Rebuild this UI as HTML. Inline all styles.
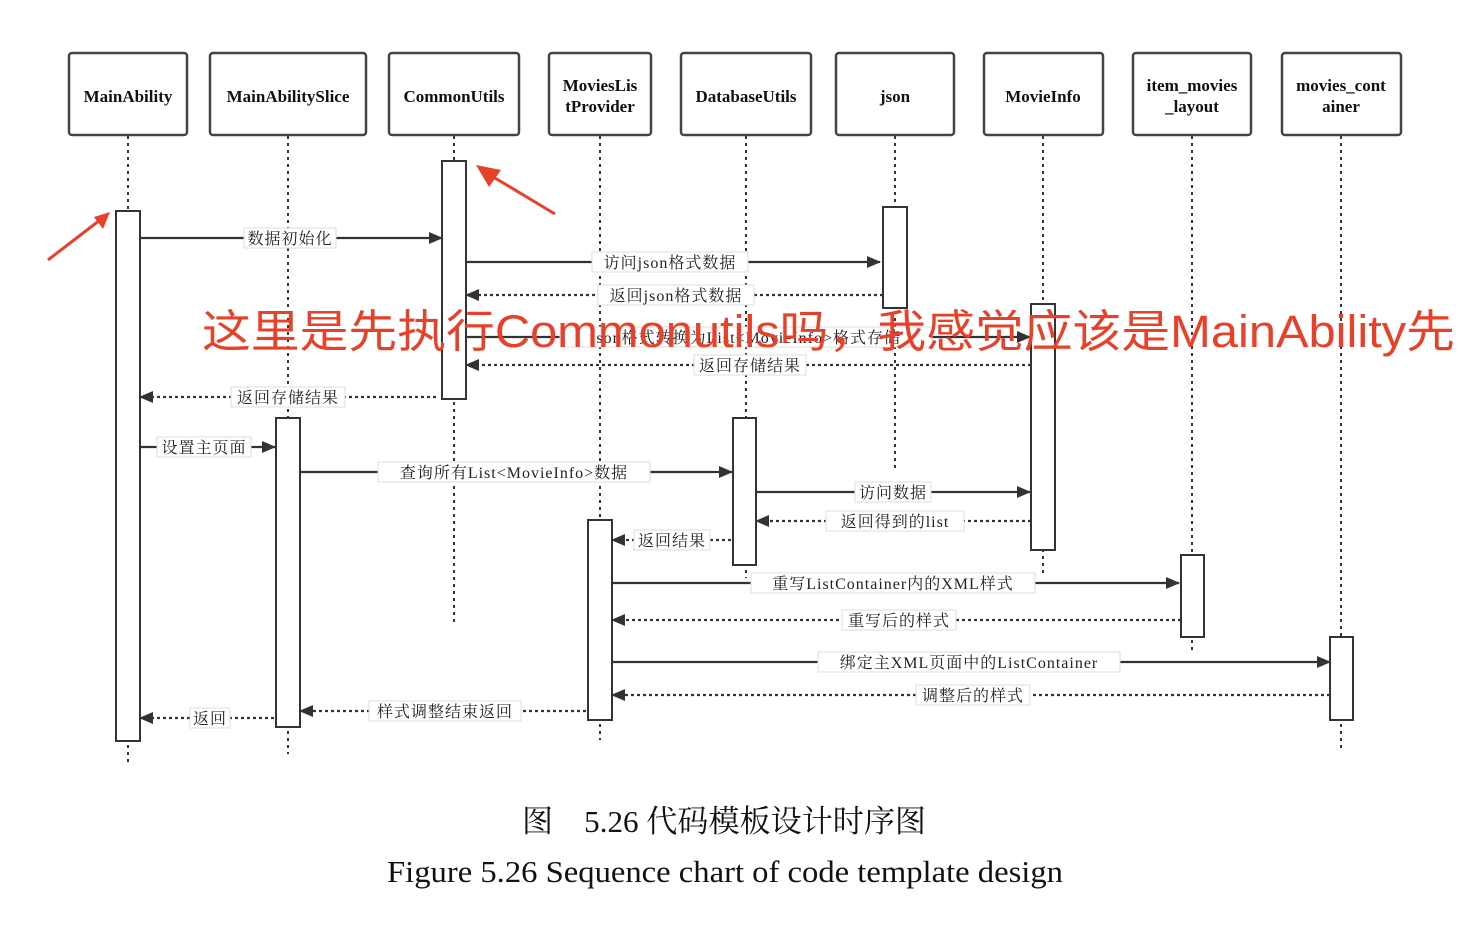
<!DOCTYPE html>
<html><head><meta charset="utf-8"><style>
html,body{margin:0;padding:0;background:#fff;width:1476px;height:934px;overflow:hidden}
svg{display:block}
.hd{font-family:"Liberation Serif",serif;font-weight:bold;font-size:17px;fill:#111}
.lb{font-family:"Liberation Serif","Noto Serif CJK SC",serif;font-size:16px;fill:#222;letter-spacing:1px}
.cap{font-family:"Liberation Serif","Noto Serif CJK SC",serif;font-size:31px;fill:#111}
.red{font-family:"Liberation Sans","Noto Sans CJK SC",sans-serif;font-size:45px;fill:#e8412a}
</style></head><body>
<svg width="1476" height="934" viewBox="0 0 1476 934" xmlns="http://www.w3.org/2000/svg">
<defs>
<marker id="a" markerWidth="14" markerHeight="12" refX="13" refY="6" orient="auto" markerUnits="userSpaceOnUse"><path d="M0,0 L14,6 L0,12 z" fill="#333"/></marker>
</defs>
<g stroke="#333" stroke-width="2" stroke-dasharray="3,4" fill="none">
<line x1="128" y1="136" x2="128" y2="762"/>
<line x1="288" y1="136" x2="288" y2="754"/>
<line x1="454" y1="136" x2="454" y2="622"/>
<line x1="600" y1="136" x2="600" y2="740"/>
<line x1="746" y1="136" x2="746" y2="578"/>
<line x1="895" y1="136" x2="895" y2="470"/>
<line x1="1043" y1="136" x2="1043" y2="575"/>
<line x1="1192" y1="136" x2="1192" y2="652"/>
<line x1="1341" y1="136" x2="1341" y2="748"/>
</g>
<g fill="#fff" stroke="#444" stroke-width="2.5">
<rect x="69" y="53" width="118" height="82" rx="3"/>
<rect x="210" y="53" width="156" height="82" rx="3"/>
<rect x="389" y="53" width="130" height="82" rx="3"/>
<rect x="549" y="53" width="102" height="82" rx="3"/>
<rect x="681" y="53" width="130" height="82" rx="3"/>
<rect x="836" y="53" width="118" height="82" rx="3"/>
<rect x="984" y="53" width="119" height="82" rx="3"/>
<rect x="1133" y="53" width="118" height="82" rx="3"/>
<rect x="1282" y="53" width="119" height="82" rx="3"/>
</g>
<g class="hd" text-anchor="middle">
<text x="128" y="102">MainAbility</text>
<text x="288" y="102">MainAbilitySlice</text>
<text x="454" y="102">CommonUtils</text>
<text x="600" y="91">MoviesLis</text><text x="600" y="112">tProvider</text>
<text x="746" y="102">DatabaseUtils</text>
<text x="895" y="102">json</text>
<text x="1043" y="102">MovieInfo</text>
<text x="1192" y="91">item_movies</text><text x="1192" y="112">_layout</text>
<text x="1341" y="91">movies_cont</text><text x="1341" y="112">ainer</text>
</g>
<g fill="#fff" stroke="#333" stroke-width="2">
<rect x="116" y="211" width="24" height="530"/>
<rect x="442" y="161" width="24" height="238"/>
<rect x="883" y="207" width="24" height="101"/>
<rect x="1031" y="304" width="24" height="246"/>
<rect x="276" y="418" width="24" height="309"/>
<rect x="733" y="418" width="23" height="147"/>
<rect x="588" y="520" width="24" height="200"/>
<rect x="1181" y="555" width="23" height="82"/>
<rect x="1330" y="637" width="23" height="83"/>
</g>
<g stroke="#333" stroke-width="2.2" fill="none" marker-end="url(#a)">
<line x1="140" y1="238" x2="442" y2="238"/>
<line x1="466" y1="262" x2="880" y2="262"/>
<line x1="466" y1="337" x2="1030" y2="337"/>
<line x1="140" y1="447" x2="275" y2="447"/>
<line x1="300" y1="472" x2="732" y2="472"/>
<line x1="756" y1="492" x2="1030" y2="492"/>
<line x1="612" y1="583" x2="1179" y2="583"/>
<line x1="612" y1="662" x2="1330" y2="662"/>
</g>
<g stroke="#333" stroke-width="2.2" stroke-dasharray="3,3" fill="none" marker-end="url(#a)">
<line x1="883" y1="295" x2="466" y2="295"/>
<line x1="1031" y1="365" x2="466" y2="365"/>
<line x1="436" y1="397" x2="140" y2="397"/>
<line x1="1031" y1="521" x2="756" y2="521"/>
<line x1="731" y1="540" x2="612" y2="540"/>
<line x1="1181" y1="620" x2="612" y2="620"/>
<line x1="1330" y1="695" x2="612" y2="695"/>
<line x1="586" y1="711" x2="300" y2="711"/>
<line x1="274" y1="718" x2="140" y2="718"/>
</g>
<g class="lb" text-anchor="middle">
<g fill="#fff" stroke="#ddd" stroke-width="1">
<rect x="244" y="228" width="92" height="20"/>
<rect x="592" y="252" width="156" height="20"/>
<rect x="598" y="285" width="156" height="20"/>
<rect x="560" y="327" width="372" height="20"/>
<rect x="694" y="355" width="112" height="20"/>
<rect x="231" y="387" width="114" height="20"/>
<rect x="157" y="437" width="94" height="20"/>
<rect x="378" y="462" width="272" height="20"/>
<rect x="855" y="482" width="76" height="20"/>
<rect x="826" y="511" width="138" height="20"/>
<rect x="634" y="530" width="76" height="20"/>
<rect x="751" y="573" width="284" height="20"/>
<rect x="842" y="610" width="114" height="20"/>
<rect x="818" y="652" width="302" height="20"/>
<rect x="916" y="685" width="114" height="20"/>
<rect x="369" y="701" width="152" height="20"/>
<rect x="190" y="708" width="40" height="20"/>
</g>
<text x="290" y="244">数据初始化</text>
<text x="670" y="268">访问json格式数据</text>
<text x="676" y="301">返回json格式数据</text>
<text x="746" y="343">json格式转换为List&lt;MovieInfo&gt;格式存储</text>
<text x="750" y="371">返回存储结果</text>
<text x="288" y="403">返回存储结果</text>
<text x="204" y="453">设置主页面</text>
<text x="514" y="478">查询所有List&lt;MovieInfo&gt;数据</text>
<text x="893" y="498">访问数据</text>
<text x="895" y="527">返回得到的list</text>
<text x="672" y="546">返回结果</text>
<text x="893" y="589">重写ListContainer内的XML样式</text>
<text x="899" y="626">重写后的样式</text>
<text x="969" y="668">绑定主XML页面中的ListContainer</text>
<text x="973" y="701">调整后的样式</text>
<text x="445" y="717">样式调整结束返回</text>
<text x="210" y="724">返回</text>
</g>
<text class="red" x="202" y="347" textLength="1253" lengthAdjust="spacingAndGlyphs">这里是先执行Commonutils吗，我感觉应该是MainAbility先</text>
<g stroke="#e8412a" stroke-width="3" fill="none">
<line x1="48" y1="260" x2="100" y2="220"/>
<line x1="555" y1="214" x2="490" y2="175"/>
</g>
<path d="M110,212 L103,229 L94,217 z" fill="#e8412a"/>
<path d="M476,165 L501,170 L489,187 z" fill="#e8412a"/>
<text class="cap" x="522" y="832" textLength="404" lengthAdjust="spacingAndGlyphs">图　5.26 代码模板设计时序图</text>
<text class="cap" x="387" y="882" textLength="676" lengthAdjust="spacingAndGlyphs">Figure 5.26 Sequence chart of code template design</text>
</svg>
</body></html>
